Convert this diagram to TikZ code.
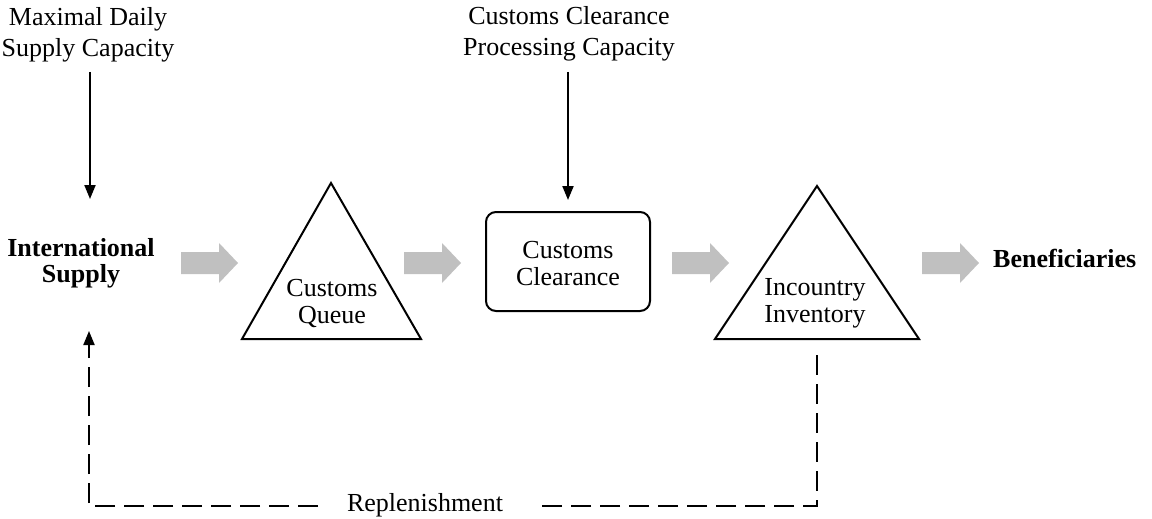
\documentclass[tikz,border=0pt]{standalone}
\usepackage{fontspec}
\setmainfont{Liberation Serif}
\usetikzlibrary{arrows.meta}
\definecolor{flowgray}{RGB}{192,192,192}
\tikzset{
  lbl/.style={font=\fontsize{26}{31}\selectfont, align=center, inner sep=0pt},
  inlbl/.style={font=\fontsize{26}{27}\selectfont, align=center, inner sep=0pt},
  endlbl/.style={font=\fontsize{26}{26}\selectfont\bfseries, align=center, inner sep=0pt},
  outline/.style={draw=black, line width=2pt, line join=miter},
  ctrl/.style={draw=black, line width=2pt, -{Triangle[length=14pt,width=11pt]}},
  loopline/.style={draw=black, line width=2pt, dash pattern=on 20pt off 9pt},
  feedback/.style={loopline, -{Triangle[length=14pt,width=11pt]}},
  flowarrow/.pic={\fill[flowgray] (0,-11) -- (38,-11) -- (38,-20) -- (57,0)
    -- (38,20) -- (38,11) -- (0,11) -- cycle;}
}
\begin{document}
\begin{tikzpicture}[x=1pt,y=-1pt]
\useasboundingbox (0,0) rectangle (1152,519);

% capacity labels at the top
\node[lbl] (maxcap) at (88,35) {Maximal Daily\\Supply Capacity};
\node[lbl] (proccap) at (569,34) {Customs Clearance\\Processing Capacity};

% source and sink
\node[endlbl] (supply) at (81,263) {International\\Supply};
\node[endlbl, anchor=base west] (benef) at (993,267) {Beneficiaries};

% stocks (triangles) and the clearance activity (rounded box)
\draw[outline] (331,183) -- (421,339) -- (242,339) -- cycle;
\node[inlbl] (queue) at (332,303.5) {Customs\\Queue};
\draw[outline] (817,186) -- (919,339) -- (715,339) -- cycle;
\node[inlbl] (inventory) at (815,303) {Incountry\\Inventory};
\draw[outline, rounded corners=10pt] (486,212) rectangle (650,311);
\node[inlbl] (clearance) at (568,264) {Customs\\Clearance};

% material flow
\pic at (181,263) {flowarrow};
\pic at (404,263) {flowarrow};
\pic at (672,263) {flowarrow};
\pic at (922,263) {flowarrow};

% capacity constraints
\coordinate (maxcapfoot) at (90,72);
\coordinate (supplytop) at (90,199);
\coordinate (proccapfoot) at (568,72);
\coordinate (cleartop) at (568,200);
\draw[ctrl] (maxcapfoot) -- (supplytop);
\draw[ctrl] (proccapfoot) -- (cleartop);

% replenishment loop, broken around its label
\node[font=\fontsize{26}{26}\selectfont, inner sep=0pt, anchor=base]
  (replen) at (425,511) {Replenishment};
\coordinate (invbottom) at (817,355);
\coordinate (loopright) at (817,506);
\coordinate (loopleft) at (89,506);
\coordinate (supplybottom) at (89,331);
\coordinate (gapright) at (542,506);
\coordinate (gapleft) at (318,506);
\draw[loopline] (invbottom) -- (loopright) -- (gapright);
\draw[feedback] (gapleft) -- (loopleft) -- (supplybottom);
\end{tikzpicture}
\end{document}
